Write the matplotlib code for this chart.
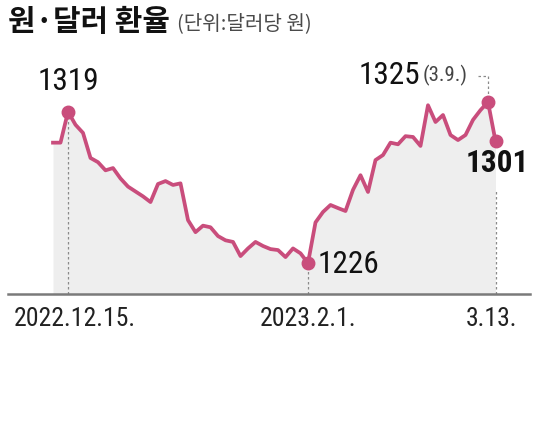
import matplotlib
matplotlib.use('Agg')
import matplotlib.pyplot as plt
from matplotlib.transforms import ScaledTranslation

# won/dollar rate, one value per trading day
rate = [1300, 1300, 1319, 1311, 1306, 1290.6, 1288, 1283, 1284.4, 1278,
        1273, 1270, 1267, 1263.5, 1274.6, 1276.4, 1274, 1275, 1252.4, 1245,
        1249, 1248, 1242.6, 1240, 1239, 1230.3, 1235, 1239, 1236.5, 1234.6,
        1234, 1229.7, 1235, 1232, 1226, 1251, 1257.4, 1261.7, 1259.8, 1258,
        1271, 1280, 1269.7, 1289.3, 1292.4, 1300, 1299, 1304, 1303.5, 1298,
        1323, 1312.7, 1317, 1304.7, 1301.6, 1304.7, 1314, 1320, 1325, 1301]
days = list(range(len(rate)))

tick_idx = [2, 34, 59]
tick_labels = ['2022.12.15.', '2023.2.1.', '3.13.']

hi_start, lo, hi_end, last = 2, 34, 58, 59

LINE = '#c94d7c'
FILL = '#eeeeee'
NUM_FONT = ['Roboto Condensed', 'Liberation Sans', 'DejaVu Sans']
KR_FONT = ['Noto Sans CJK KR', 'DejaVu Sans']

W, H = 541, 424
fig = plt.figure(figsize=(W / 100, H / 100), dpi=100)
ax = fig.add_axes([8 / W, (H - 294) / H, (530 - 8) / W, (294 - 60) / H])
ax.set_xlim(-6, 63.6)
ax.set_ylim(1207, 1350.8)

ax.fill_between(days, rate, 1207, color=FILL, lw=0, zorder=1)
ax.plot(days, rate, color=LINE, lw=2.7, solid_joinstyle='round', zorder=3)
for i in [hi_start, lo, hi_end, last]:
    ax.plot(days[i], rate[i], 'o', color=LINE, ms=9, zorder=4)

dot = dict(color='#8a8a8a', lw=0.9, ls=(0, (2, 2)), zorder=2)
ax.plot([days[hi_start]] * 2, [1207, rate[hi_start]], **dot)
ax.plot([days[lo]] * 2, [1207, rate[lo]], **dot)
ax.plot([days[last]] * 2, [1207, rate[last] - 31], **dot)
ax.plot([days[hi_end] - 1.4, days[hi_end], days[hi_end]],
        [rate[hi_end] + 16, rate[hi_end] + 16, rate[hi_end] + 4], **dot)

for s in ['top', 'right', 'left']:
    ax.spines[s].set_visible(False)
ax.spines['bottom'].set_color('#7a7a7a')
ax.spines['bottom'].set_linewidth(1.8)
ax.set_yticks([])
ax.set_xticks([days[i] for i in tick_idx])
ax.set_xticklabels(tick_labels, family=NUM_FONT, fontsize=18.5, color='#222222')
ax.tick_params(axis='x', length=0, pad=9)
shifts = [5, 0, -3]  # points, nudging labels as in the original
for lab, dx in zip(ax.get_xticklabels(), shifts):
    lab.set_transform(lab.get_transform() + ScaledTranslation(dx / 72, 0, fig.dpi_scale_trans))

num = dict(family=NUM_FONT, fontsize=22.5, color='#111111', textcoords='offset points')
ax.annotate(f'{rate[hi_start]:.0f}', (days[hi_start], rate[hi_start]), xytext=(0, 22),
            ha='center', va='center', **num)
ax.annotate(f'{rate[lo]:.0f}', (days[lo], rate[lo]), xytext=(7, -1),
            ha='left', va='center', **num)
ax.annotate(f'{rate[hi_end]:.0f}', (days[hi_end], rate[hi_end]), xytext=(-49, 19),
            ha='right', va='center', **num)
ax.annotate('(3.9.)', (days[hi_end], rate[hi_end]), xytext=(-47, 19),
            ha='left', va='center', family=NUM_FONT, fontsize=15, color='#444444',
            textcoords='offset points')
ax.annotate(f'{rate[last]:.0f}', (days[last], rate[last]), xytext=(1, -16),
            ha='center', va='center', fontweight='bold', **num)

fig.text(8 / W, 1 - 22 / H, '원·달러 환율', family=KR_FONT, fontsize=21.5,
         fontweight='bold', color='#111111', va='center', ha='left')
fig.text(177 / W, 1 - 24 / H, '(단위:달러당 원)', family=KR_FONT, fontsize=14.5,
         color='#4a4a4a', va='center', ha='left')

fig.savefig('out.png', dpi=100)
